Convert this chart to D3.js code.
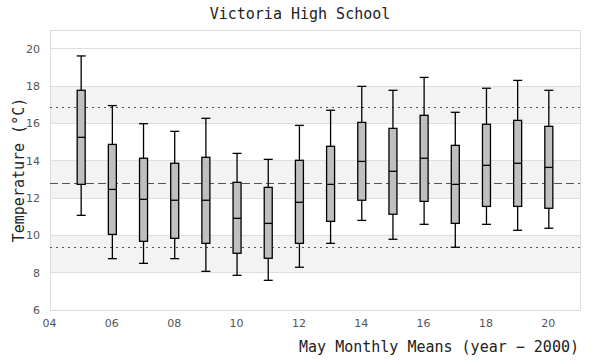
<!DOCTYPE html>
<html><head><meta charset="utf-8">
<script src="https://cdn.jsdelivr.net/npm/d3@7"></script>
<style>body{margin:0;background:#fff}</style>
</head><body>
<svg id="c" width="600" height="360"></svg>
<script>
const years = [5,6,7,8,9,10,11,12,13,14,15,16,17,18,19,20];
const whiskerLow  = [11.07,8.75,8.50,8.75,8.07,7.86,7.59,8.29,9.57,10.80,9.79,10.59,9.36,10.59,10.27,10.38];
const q1          = [12.73,10.05,9.68,9.84,9.57,9.04,8.77,9.57,10.75,11.88,11.13,11.82,10.64,11.55,11.55,11.45];
const median      = [15.25,12.46,11.93,11.88,11.88,10.91,10.64,11.77,12.73,13.96,13.43,14.13,12.73,13.75,13.86,13.64];
const q3          = [17.77,14.87,14.13,13.86,14.18,12.84,12.57,14.02,14.77,16.05,15.73,16.43,14.82,15.95,16.16,15.84];
const whiskerHigh = [19.61,16.95,15.98,15.57,16.27,14.39,14.07,15.89,16.70,17.98,17.77,18.46,16.59,17.88,18.30,17.77];
const meanLine = 12.79;
const upperLine = 16.86;
const lowerLine = 9.36;
const xTicks = [4,6,8,10,12,14,16,18,20];
const yTicks = [6,8,10,12,14,16,18,20];
const bands = [[8,10],[12,14],[16,18]];

const svg = d3.select("#c");
const L=50, R=580, T=30, B=310;
const x = d3.scaleLinear().domain([4,21]).range([L,R]);
const y = d3.scaleLinear().domain([6,21]).range([B,T]);

// bands
svg.append("g").selectAll("rect").data(bands).join("rect")
  .attr("x",L).attr("width",R-L)
  .attr("y",d=>y(d[1])).attr("height",d=>y(d[0])-y(d[1]))
  .attr("fill","#f3f3f3");
// gridlines
svg.append("g").selectAll("line").data(yTicks.filter(v=>v>6)).join("line")
  .attr("x1",L).attr("x2",R).attr("y1",d=>y(d)).attr("y2",d=>y(d))
  .attr("stroke","#dedede").attr("stroke-width",1).attr("shape-rendering","crispEdges");
// border
svg.append("rect").attr("x",L).attr("y",T).attr("width",R-L).attr("height",B-T)
  .attr("fill","none").attr("stroke","#dcdcdc").attr("shape-rendering","crispEdges");

// reference lines
const refs = [[upperLine,"2,4"],[meanLine,"8,4"],[lowerLine,"2,4"]];
svg.append("g").selectAll("line").data(refs).join("line")
  .attr("x1",L).attr("x2",R).attr("y1",d=>Math.round(y(d[0]))+0.5).attr("y2",d=>Math.round(y(d[0]))+0.5)
  .attr("stroke","#555").attr("stroke-width",1).attr("stroke-dasharray",d=>d[1]);

// axes
const xAxis = d3.axisBottom(x).tickValues(xTicks).tickSize(0).tickPadding(9)
  .tickFormat(d=>d3.format("02d")(d));
const gx = svg.append("g").attr("transform",`translate(0,${B})`).call(xAxis);
gx.select(".domain").remove();
gx.selectAll("text").attr("font-family","DejaVu Sans").attr("font-size",11).attr("fill","#555").attr("dx",-1);

const yAxis = d3.axisLeft(y).tickValues(yTicks).tickSize(0).tickPadding(10);
const gy = svg.append("g").attr("transform",`translate(${L},0)`).call(yAxis);
gy.select(".domain").remove();
gy.selectAll("text").attr("font-family","DejaVu Sans").attr("font-size",11).attr("fill","#555");

// boxes
const data = years.map((yr,i)=>({yr,lo:whiskerLow[i],q1:q1[i],med:median[i],q3:q3[i],hi:whiskerHigh[i]}));
const bw=8, cw=9;
const g = svg.append("g").selectAll("g").data(data).join("g");
g.append("line").attr("x1",d=>x(d.yr)).attr("x2",d=>x(d.yr))
  .attr("y1",d=>y(d.hi)).attr("y2",d=>y(d.lo)).attr("stroke","#000").attr("stroke-width",1.3);
g.append("line").attr("x1",d=>x(d.yr)-cw/2).attr("x2",d=>x(d.yr)+cw/2)
  .attr("y1",d=>y(d.hi)).attr("y2",d=>y(d.hi)).attr("stroke","#000").attr("stroke-width",1.3);
g.append("line").attr("x1",d=>x(d.yr)-cw/2).attr("x2",d=>x(d.yr)+cw/2)
  .attr("y1",d=>y(d.lo)).attr("y2",d=>y(d.lo)).attr("stroke","#000").attr("stroke-width",1.3);
g.append("rect").attr("x",d=>x(d.yr)-bw/2).attr("width",bw)
  .attr("y",d=>y(d.q3)).attr("height",d=>y(d.q1)-y(d.q3))
  .attr("fill","#bfbfbf").attr("stroke","#000").attr("stroke-width",1.3);
g.append("line").attr("x1",d=>x(d.yr)-bw/2).attr("x2",d=>x(d.yr)+bw/2)
  .attr("y1",d=>y(d.med)).attr("y2",d=>y(d.med)).attr("stroke","#000").attr("stroke-width",1.3);

// titles
svg.append("text").attr("x",300).attr("y",19).attr("text-anchor","middle")
  .attr("font-family","DejaVu Sans Mono").attr("font-size",15).attr("fill","#222")
  .text("Victoria High School");
svg.append("text").attr("x",579).attr("y",352).attr("text-anchor","end")
  .attr("font-family","DejaVu Sans Mono").attr("font-size",15).attr("fill","#222")
  .text("May Monthly Means (year − 2000)");
svg.append("text").attr("transform",`translate(24,${(T+B)/2}) rotate(-90)`).attr("text-anchor","middle")
  .attr("font-family","DejaVu Sans Mono").attr("font-size",15).attr("fill","#222")
  .text("Temperature (°C)");
</script>
</body></html>
